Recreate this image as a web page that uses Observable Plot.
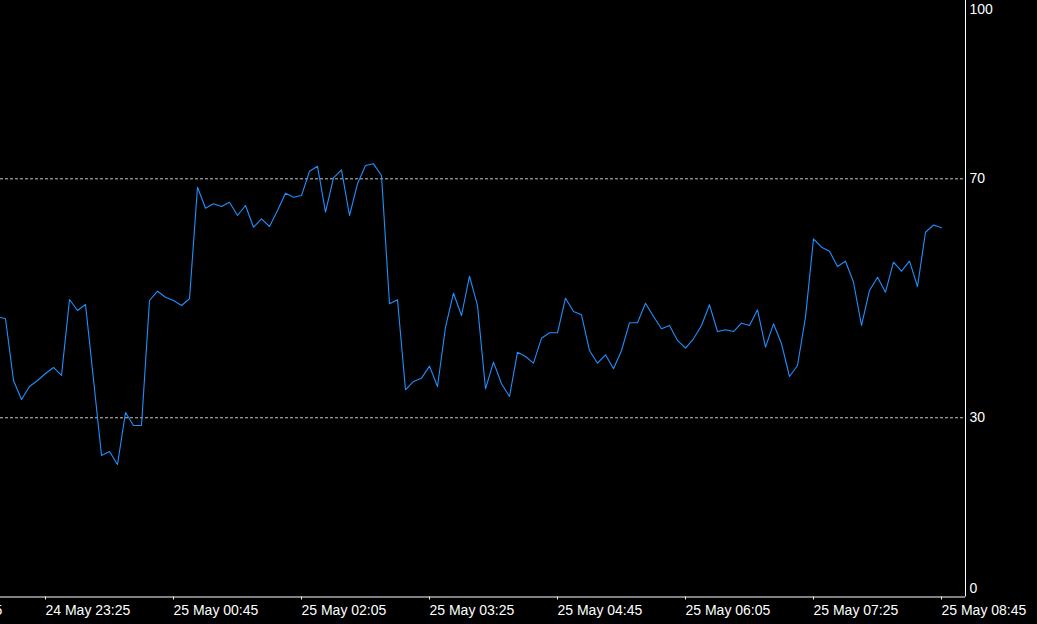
<!DOCTYPE html>
<html>
<head>
<meta charset="utf-8">
<script src="https://cdn.jsdelivr.net/npm/d3@7"></script>
<script src="https://cdn.jsdelivr.net/npm/@observablehq/plot@0.6"></script>
<style>
  html, body { margin: 0; padding: 0; background: #000; overflow: hidden; }
  #chart svg { display: block; }
</style>
</head>
<body>
<div id="chart"></div>
<script>
// RSI values, one per 5-minute bar, starting 24 May 22:55
const startTime = "2024-05-24T22:55:00Z";
const barMinutes = 5;
const rsiValues = [
  46.95, 46.57, 36.24, 33.06, 35.24, 36.24, 37.41, 38.42, 37.08, 49.80,
  47.96, 48.96, 36.40, 23.69, 24.36, 22.18, 30.89, 28.71, 28.71, 49.63,
  51.19, 50.18, 49.63, 48.79, 49.92, 68.59, 65.08, 65.82, 65.36, 66.08,
  63.86, 65.53, 61.90, 63.31, 62.02, 64.69, 67.59, 66.92, 67.20, 71.27,
  72.11, 64.41, 70.17, 71.51, 63.86, 69.16, 72.23, 72.51, 70.55, 49.08,
  49.75, 34.69, 36.08, 36.63, 38.64, 35.24, 45.16, 50.85, 47.12, 53.70,
  48.79, 34.85, 39.31, 35.69, 33.56, 40.98, 40.26, 39.14, 43.32, 44.23,
  44.23, 50.02, 47.79, 47.24, 41.26, 39.14, 40.54, 38.20, 41.26, 45.90,
  45.90, 49.18, 46.95, 44.90, 45.45, 42.94, 41.65, 43.22, 45.45, 48.91,
  44.44, 44.73, 44.44, 45.83, 45.45, 48.08, 41.82, 45.73, 42.38, 36.91,
  38.75, 46.84, 59.96, 58.55, 57.88, 55.32, 56.21, 52.69, 45.45, 51.31,
  53.53, 51.02, 56.04, 54.54, 56.21, 51.97, 61.06, 62.27, 61.80
];
const levels = [30, 70];
const yTickTop = [100];
const yTickMid = [30, 70];
const yTickBottom = [0];
const xTickLabels = [
  "24 May 22:05", "24 May 23:25", "25 May 00:45", "25 May 02:05", "25 May 03:25",
  "25 May 04:45", "25 May 06:05", "25 May 07:25", "25 May 08:45"
];
const xDomain = ["2024-05-24T22:56:52.5Z", "2024-05-25T09:00:00Z"];

const t0 = new Date(startTime).getTime();
const data = rsiValues.map((v, i) => ({t: new Date(t0 + i * barMinutes * 60000), v}));
const parseLabel = s => {
  const [day, , hm] = s.split(" ");
  const [h, m] = hm.split(":").map(Number);
  return new Date(Date.UTC(2024, 4, +day, h, m));
};
const tickTimes = xTickLabels.map(parseLabel);
const labelMap = new Map(tickTimes.map((d, i) => [+d, xTickLabels[i]]));
const xEnd = new Date(xDomain[1]);

const chart = Plot.plot({
  width: 1037,
  height: 624,
  marginLeft: 0,
  marginRight: 72,
  marginTop: 0,
  marginBottom: 27.5,
  style: {background: "#000", color: "#fff", fontFamily: "'Liberation Sans', Arial, sans-serif", fontSize: "14px"},
  x: {type: "utc", domain: xDomain.map(d => new Date(d)), axis: null, label: null},
  y: {domain: [0, 100], range: [596.5, -0.9], axis: null, label: null},
  marks: [
    Plot.ruleY(levels, {stroke: "#c8c8c8", strokeDasharray: "3,2", strokeWidth: 1}),
    Plot.line(data, {x: "t", y: "v", stroke: "#1E90FF", strokeWidth: 1.1, clip: true}),
    Plot.ruleY([0], {stroke: "#fff", strokeWidth: 1}),
    Plot.ruleX([xEnd], {y1: 0, y2: 100, stroke: "#fff", strokeWidth: 1}),
    Plot.axisX({
      ticks: tickTimes, tickSize: 3, tickPadding: 5, textAnchor: "start", label: null,
      tickFormat: d => labelMap.get(+d), stroke: "#fff", fill: "#fff", fontSize: 14
    }),
    Plot.text(yTickMid, {x: () => xEnd, y: d => d, text: d => String(d), textAnchor: "start", dx: 4, fill: "#fff", fontSize: 14}),
    Plot.text(yTickTop, {x: () => xEnd, y: d => d, text: d => String(d), textAnchor: "start", lineAnchor: "top", dx: 4, dy: 4, fill: "#fff", fontSize: 14}),
    Plot.text(yTickBottom, {x: () => xEnd, y: d => d, text: d => String(d), textAnchor: "start", lineAnchor: "bottom", dx: 4, dy: -4, fill: "#fff", fontSize: 14})
  ]
});
document.getElementById("chart").appendChild(chart);
</script>
</body>
</html>
